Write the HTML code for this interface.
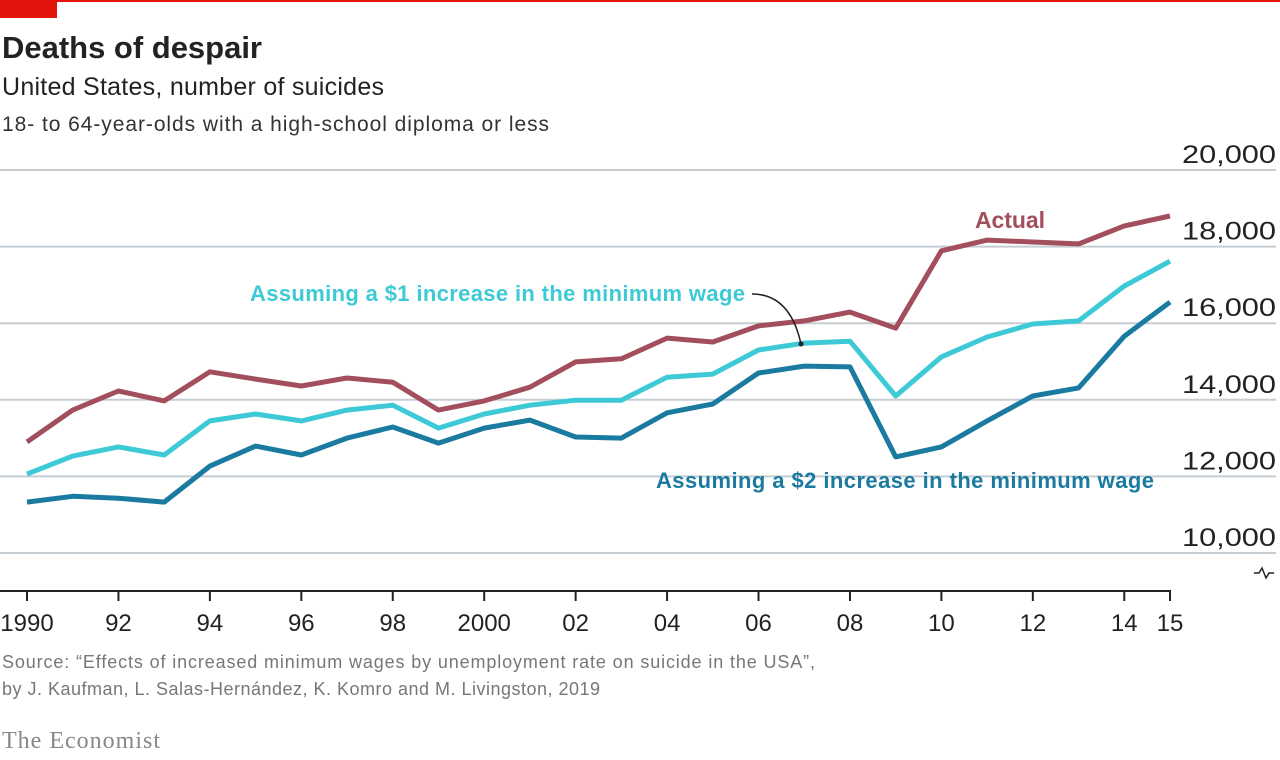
<!DOCTYPE html>
<html><head><meta charset="utf-8"><style>
body{margin:0;background:#fff;width:1280px;height:755px;overflow:hidden;font-family:"Liberation Sans",sans-serif}
svg text{font-family:"Liberation Sans",sans-serif}
</style></head><body>
<svg id="c" width="1280" height="755">
<rect x="0" y="0" width="1280" height="2" fill="#e3120b"/>
<rect x="0" y="0" width="57" height="18" fill="#e3120b"/>
<text x="2" y="58" font-size="31" font-weight="bold" fill="#222" textLength="260">Deaths of despair</text>
<text x="2" y="95" font-size="25" fill="#222" textLength="382">United States, number of suicides</text>
<text x="2" y="131" font-size="21" fill="#333" textLength="547">18- to 64-year-olds with a high-school diploma or less</text>
<g id="grid"></g><g id="lines"></g>
<text x="250" y="301" font-size="22" font-weight="bold" fill="#3ec9d6" textLength="495">Assuming a $1 increase in the minimum wage</text>
<path d="M752 294 Q790 294 801 344" fill="none" stroke="#222" stroke-width="1.5"/>
<circle cx="801" cy="344" r="2.5" fill="#222"/>
<text x="975" y="228" font-size="23" font-weight="bold" fill="#a34e5c" textLength="70">Actual</text>
<text x="656" y="488" font-size="22" font-weight="bold" fill="#1a7aa0" textLength="498">Assuming a $2 increase in the minimum wage</text>
<path d="M1254 573 h5 l3 -5 l4 10 l3 -5 h5" fill="none" stroke="#222" stroke-width="1.5"/>
<text x="2" y="668" font-size="18" fill="#777" textLength="813">Source: “Effects of increased minimum wages by unemployment rate on suicide in the USA”,</text>
<text x="2" y="695" font-size="18" fill="#777" textLength="598">by J. Kaufman, L. Salas-Hernández, K. Komro and M. Livingston, 2019</text>
<text x="2" y="748" font-size="24" fill="#888" textLength="158" style="font-family:'Liberation Serif',serif">The Economist</text>
</svg>
<script>
const years=[1990,1991,1992,1993,1994,1995,1996,1997,1998,1999,2000,2001,2002,2003,2004,2005,2006,2007,2008,2009,2010,2011,2012,2013,2014,2015];
const actual=[12900,13730,14230,13970,14730,14540,14360,14570,14460,13730,13970,14330,14990,15070,15610,15510,15930,16060,16290,15870,17890,18170,18120,18070,18540,18800];
const plus1=[12060,12530,12770,12560,13450,13630,13450,13730,13860,13260,13630,13860,13990,13990,14590,14670,15300,15480,15530,14100,15120,15640,15980,16060,16970,17620];
const plus2=[11330,11480,11430,11330,12270,12790,12560,13000,13290,12870,13260,13470,13030,13000,13660,13890,14700,14880,14860,12510,12770,13450,14100,14310,15660,16550];
const yTicks=[10000,12000,14000,16000,18000,20000];
const xLabels=["1990","92","94","96","98","2000","02","04","06","08","10","12","14","15"];
const xLabelYears=[1990,1992,1994,1996,1998,2000,2002,2004,2006,2008,2010,2012,2014,2015];
const X=y=>27+(y-1990)*(1170-27)/25;
const Y=v=>553-(v-10000)*(553-170)/10000;
const NS="http://www.w3.org/2000/svg";
const grid=document.getElementById('grid'),lines=document.getElementById('lines');
function mk(tag,attrs,parent,txt){const e=document.createElementNS(NS,tag);for(const k in attrs)e.setAttribute(k,attrs[k]);if(txt!==undefined)e.textContent=txt;parent.appendChild(e);return e;}
yTicks.forEach(t=>{
 const l=mk('line',{x1:0,x2:1276,y1:Y(t),y2:Y(t),stroke:'#c5cdd3','stroke-width':2},grid);
 
 
 const tx=mk('text',{x:1276,y:Y(t)-7,'text-anchor':'end','font-size':25,fill:'#222',textLength:94,lengthAdjust:'spacingAndGlyphs'},grid,t.toLocaleString('en-US'));
 
 
});
const ax=mk('line',{x1:0,x2:1171,y1:591,y2:591,stroke:'#222','stroke-width':2},grid);


xLabelYears.forEach(y=>{
 const t=mk('line',{x1:X(y),x2:X(y),y1:591,y2:601,stroke:'#222','stroke-width':2},grid);
 
 
});
xLabels.forEach((s,i)=>{
 const t=mk('text',{x:X(xLabelYears[i]),y:631,'text-anchor':'middle','font-size':24,fill:'#222'},grid,s);
 
 
});
function line(arr,color,name){
 const d=arr.map((v,i)=>(i?'L':'M')+X(years[i]).toFixed(1)+' '+Y(v).toFixed(1)).join(' ');
 const p=mk('path',{d:d,fill:'none',stroke:color,'stroke-width':5,'stroke-linejoin':'round'},lines);
 
 
}
line(plus2,'#1a7aa0','line-2-dollar');
line(plus1,'#3ec9d6','line-1-dollar');
line(actual,'#a34e5c','line-actual');
</script>
</body></html>
